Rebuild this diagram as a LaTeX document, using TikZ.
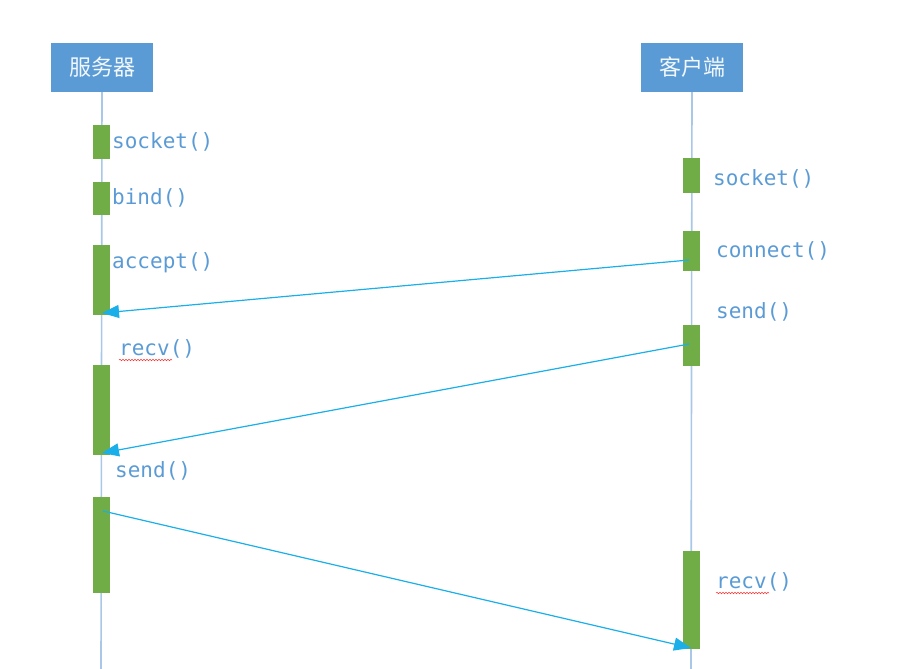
\documentclass[tikz,border=0pt]{standalone}
\usepackage{fontspec}
\setmonofont{DejaVu Sans Mono}
\newfontfamily\cjk{Noto Sans CJK SC}
\usetikzlibrary{arrows.meta,decorations.pathmorphing}
\definecolor{hdrblue}{HTML}{5B9BD5}
\definecolor{lifeblue}{HTML}{A9C8E8}
\definecolor{actgreen}{HTML}{70AD47}
\definecolor{msgcyan}{HTML}{1AAFE8}
\definecolor{lblblue}{HTML}{5B9BD5}
\begin{document}
\begin{tikzpicture}[x=1pt,y=-1pt,
  header/.style={fill=hdrblue,draw=none,text=white!92!hdrblue,minimum width=102pt,minimum height=49pt,inner sep=0pt,font=\cjk\fontsize{22}{24}\selectfont},
  lifeline/.style={draw=lifeblue,line width=1.6pt},
  act/.style={fill=actgreen,draw=none,minimum width=17pt,inner sep=0pt},
  lbl/.style={anchor=west,inner sep=0pt,text=lblblue,font=\ttfamily\fontsize{21}{24}\selectfont},
  msg/.style={draw=msgcyan,line width=1.2pt,-{Triangle[length=17pt,width=13pt]}},
  spell/.style={draw=red!80,line width=0.5pt,decorate,decoration={snake,amplitude=0.8pt,segment length=3pt}}]
\useasboundingbox (0,0) rectangle (900,669);
% headers
\node[header] (srv) at (102,67.5) {服务器};
\node[header] (cli) at (692,67.5) {客户端};
\coordinate (srvend) at (101,669);
\coordinate (cliend) at (691,669);
\draw[lifeline] (srv.south) -- (srvend);
\draw[lifeline] (cli.south) -- (cliend);
% server activations
\node[act,minimum height=34pt] (s1) at (101.5,142) {};
\node[act,minimum height=33pt] (s2) at (101.5,198.5) {};
\node[act,minimum height=70pt] (s3) at (101.5,280) {};
\node[act,minimum height=90pt] (s4) at (101.5,410) {};
\node[act,minimum height=96pt] (s5) at (101.5,545) {};
% client activations
\node[act,minimum height=35pt] (c1) at (691.5,175.5) {};
\node[act,minimum height=40pt] (c2) at (691.5,251) {};
\node[act,minimum height=41pt] (c3) at (691.5,345.5) {};
\node[act,minimum height=98pt] (c4) at (691.5,600) {};
% labels
\node[lbl] (ls1) at (112,142) {socket()};
\node[lbl] (ls2) at (112,198) {bind()};
\node[lbl] (ls3) at (112,263) {accept()};
\node[lbl] (ls4) at (119,349) {recv()};
\node[lbl] (ls5) at (115,471) {send()};
\node[lbl] (lc1) at (713,179) {socket()};
\node[lbl] (lc2) at (716,251) {connect()};
\node[lbl] (lc3) at (716,312) {send()};
\node[lbl] (lc4) at (716,582) {recv()};
% spell-check underlines
\coordinate (u1a) at (119,360); \coordinate (u1b) at (172,360);
\coordinate (u2a) at (716,593); \coordinate (u2b) at (769,593);
\draw[spell] (u1a) -- (u1b);
\draw[spell] (u2a) -- (u2b);
% messages
\coordinate (m1a) at (689,260); \coordinate (m1b) at (102,313);
\coordinate (m2a) at (689,344); \coordinate (m2b) at (102,453);
\coordinate (m3a) at (103,511); \coordinate (m3b) at (691,648);
\draw[msg] (m1a) -- (m1b);
\draw[msg] (m2a) -- (m2b);
\draw[msg] (m3a) -- (m3b);
\end{tikzpicture}
\end{document}
